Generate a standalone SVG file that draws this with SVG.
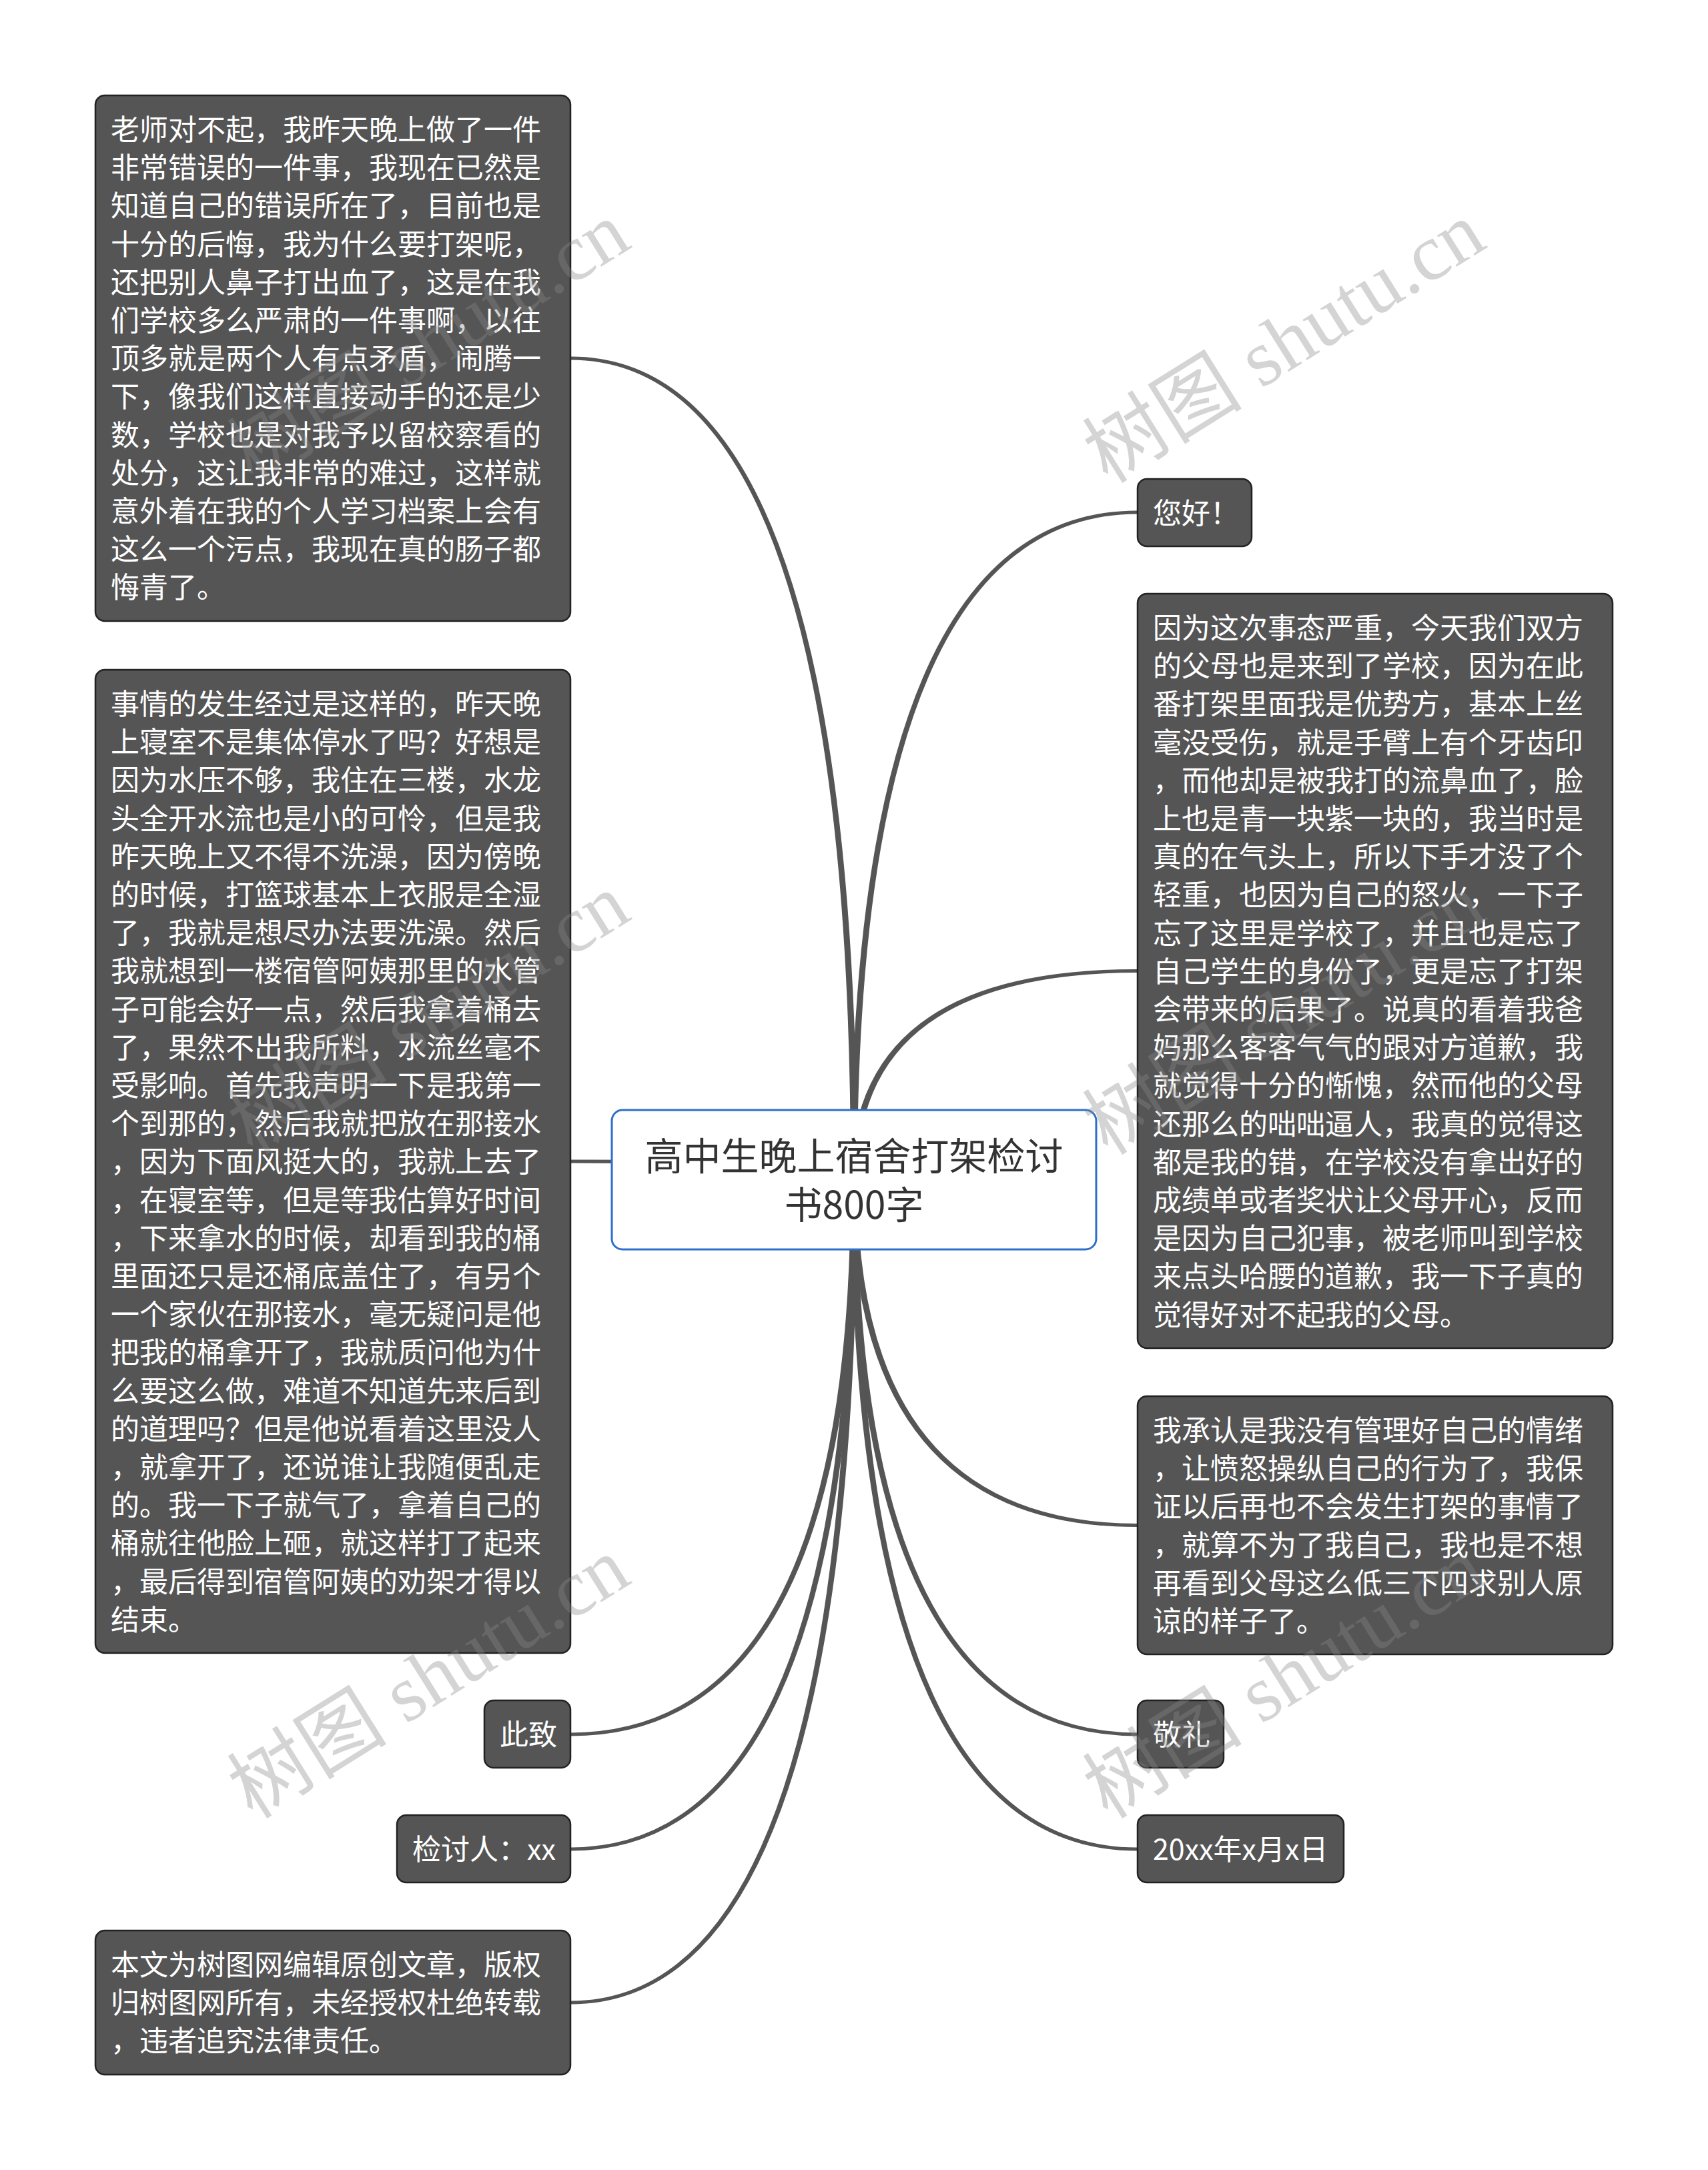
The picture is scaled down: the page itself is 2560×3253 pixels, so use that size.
<svg xmlns="http://www.w3.org/2000/svg" width="2560" height="3253" viewBox="0 0 2560 3253">
<style>
.leaf{fill:#555555;stroke:#222222;stroke-width:2.5}
.root{fill:#ffffff;stroke:#2f6fc9;stroke-width:3}
.lt{font-family:"Noto Sans CJK SC","Noto Sans",sans-serif;font-size:43px;fill:#ffffff}
.rt{font-family:"Noto Sans CJK SC","Noto Sans",sans-serif;font-size:57px;fill:#333333}
.conn{fill:#555555;stroke:none}
.wm{font-family:"Liberation Serif","Noto Sans CJK SC",serif;font-size:120px;fill:#888888;fill-opacity:0.36}
</style>
<rect width="2560" height="3253" fill="#ffffff"/>
<g id="connectors">
<path class="conn" d="M1285 1768 Q1283.5 533.5 855 534.5 L855 539.5 Q1276.5 540.5 1275 1768 Z"/>
<path class="conn" d="M1285 1768 Q1283.5 1737.5 855 1738.5 L855 1743.5 Q1276.5 1744.5 1275 1768 Z"/>
<path class="conn" d="M1285 1768 Q1283.5 2603.5 855 2602.5 L855 2597.5 Q1276.5 2596.5 1275 1768 Z"/>
<path class="conn" d="M1285 1768 Q1283.5 2775.5 855 2774.5 L855 2769.5 Q1276.5 2768.5 1275 1768 Z"/>
<path class="conn" d="M1285 1768 Q1283.5 3005.5 855 3004.5 L855 2999.5 Q1276.5 2998.5 1275 1768 Z"/>
<path class="conn" d="M1275 1768 Q1276.5 764.5 1705 765.5 L1705 770.5 Q1283.5 771.5 1285 1768 Z"/>
<path class="conn" d="M1275 1768 Q1276.5 1452 1705 1453 L1705 1458 Q1283.5 1459 1285 1768 Z"/>
<path class="conn" d="M1275 1768 Q1276.5 2290 1705 2289 L1705 2284 Q1283.5 2283 1285 1768 Z"/>
<path class="conn" d="M1275 1768 Q1276.5 2603.5 1705 2602.5 L1705 2597.5 Q1283.5 2596.5 1285 1768 Z"/>
<path class="conn" d="M1275 1768 Q1276.5 2775.5 1705 2774.5 L1705 2769.5 Q1283.5 2768.5 1285 1768 Z"/>
</g>
<g id="root">
<rect class="root" x="917" y="1664" width="726" height="209" rx="16"/>
<text class="rt" text-anchor="middle"><tspan x="1280" y="1753.7">高中生晚上宿舍打架检讨</tspan><tspan x="1280" y="1826.7">书800字</tspan></text>
</g>
<g id="n1">
<rect class="leaf" x="143" y="143" width="712" height="788" rx="14"/>
<text class="lt"><tspan x="166" y="209.9">老师对不起，我昨天晚上做了一件</tspan><tspan x="166" dy="57.2">非常错误的一件事，我现在已然是</tspan><tspan x="166" dy="57.2">知道自己的错误所在了，目前也是</tspan><tspan x="166" dy="57.2">十分的后悔，我为什么要打架呢，</tspan><tspan x="166" dy="57.2">还把别人鼻子打出血了，这是在我</tspan><tspan x="166" dy="57.2">们学校多么严肃的一件事啊，以往</tspan><tspan x="166" dy="57.2">顶多就是两个人有点矛盾，闹腾一</tspan><tspan x="166" dy="57.2">下，像我们这样直接动手的还是少</tspan><tspan x="166" dy="57.2">数，学校也是对我予以留校察看的</tspan><tspan x="166" dy="57.2">处分，这让我非常的难过，这样就</tspan><tspan x="166" dy="57.2">意外着在我的个人学习档案上会有</tspan><tspan x="166" dy="57.2">这么一个污点，我现在真的肠子都</tspan><tspan x="166" dy="57.2">悔青了。</tspan></text>
</g>
<g id="n2">
<rect class="leaf" x="143" y="1004" width="712" height="1474" rx="14"/>
<text class="lt"><tspan x="166" y="1070.9">事情的发生经过是这样的，昨天晚</tspan><tspan x="166" dy="57.2">上寝室不是集体停水了吗？好想是</tspan><tspan x="166" dy="57.2">因为水压不够，我住在三楼，水龙</tspan><tspan x="166" dy="57.2">头全开水流也是小的可怜，但是我</tspan><tspan x="166" dy="57.2">昨天晚上又不得不洗澡，因为傍晚</tspan><tspan x="166" dy="57.2">的时候，打篮球基本上衣服是全湿</tspan><tspan x="166" dy="57.2">了，我就是想尽办法要洗澡。然后</tspan><tspan x="166" dy="57.2">我就想到一楼宿管阿姨那里的水管</tspan><tspan x="166" dy="57.2">子可能会好一点，然后我拿着桶去</tspan><tspan x="166" dy="57.2">了，果然不出我所料，水流丝毫不</tspan><tspan x="166" dy="57.2">受影响。首先我声明一下是我第一</tspan><tspan x="166" dy="57.2">个到那的，然后我就把放在那接水</tspan><tspan x="166" dy="57.2">，因为下面风挺大的，我就上去了</tspan><tspan x="166" dy="57.2">，在寝室等，但是等我估算好时间</tspan><tspan x="166" dy="57.2">，下来拿水的时候，却看到我的桶</tspan><tspan x="166" dy="57.2">里面还只是还桶底盖住了，有另个</tspan><tspan x="166" dy="57.2">一个家伙在那接水，毫无疑问是他</tspan><tspan x="166" dy="57.2">把我的桶拿开了，我就质问他为什</tspan><tspan x="166" dy="57.2">么要这么做，难道不知道先来后到</tspan><tspan x="166" dy="57.2">的道理吗？但是他说看着这里没人</tspan><tspan x="166" dy="57.2">，就拿开了，还说谁让我随便乱走</tspan><tspan x="166" dy="57.2">的。我一下子就气了，拿着自己的</tspan><tspan x="166" dy="57.2">桶就往他脸上砸，就这样打了起来</tspan><tspan x="166" dy="57.2">，最后得到宿管阿姨的劝架才得以</tspan><tspan x="166" dy="57.2">结束。</tspan></text>
</g>
<g id="n3">
<rect class="leaf" x="726" y="2549" width="129" height="101" rx="14"/>
<text class="lt" x="749" y="2616.3">此致</text>
</g>
<g id="n4">
<rect class="leaf" x="595" y="2721" width="260" height="101" rx="14"/>
<text class="lt" x="618" y="2787.8">检讨人：xx</text>
</g>
<g id="n5">
<rect class="leaf" x="143" y="2894" width="712" height="216" rx="14"/>
<text class="lt"><tspan x="166" y="2960.9">本文为树图网编辑原创文章，版权</tspan><tspan x="166" dy="57.2">归树图网所有，未经授权杜绝转载</tspan><tspan x="166" dy="57.2">，违者追究法律责任。</tspan></text>
</g>
<g id="n6">
<rect class="leaf" x="1705" y="718" width="171" height="101" rx="14"/>
<text class="lt" x="1728" y="784.8">您好！</text>
</g>
<g id="n7">
<rect class="leaf" x="1705" y="890" width="712" height="1131" rx="14"/>
<text class="lt"><tspan x="1728" y="956.9">因为这次事态严重，今天我们双方</tspan><tspan x="1728" dy="57.2">的父母也是来到了学校，因为在此</tspan><tspan x="1728" dy="57.2">番打架里面我是优势方，基本上丝</tspan><tspan x="1728" dy="57.2">毫没受伤，就是手臂上有个牙齿印</tspan><tspan x="1728" dy="57.2">，而他却是被我打的流鼻血了，脸</tspan><tspan x="1728" dy="57.2">上也是青一块紫一块的，我当时是</tspan><tspan x="1728" dy="57.2">真的在气头上，所以下手才没了个</tspan><tspan x="1728" dy="57.2">轻重，也因为自己的怒火，一下子</tspan><tspan x="1728" dy="57.2">忘了这里是学校了，并且也是忘了</tspan><tspan x="1728" dy="57.2">自己学生的身份了，更是忘了打架</tspan><tspan x="1728" dy="57.2">会带来的后果了。说真的看着我爸</tspan><tspan x="1728" dy="57.2">妈那么客客气气的跟对方道歉，我</tspan><tspan x="1728" dy="57.2">就觉得十分的惭愧，然而他的父母</tspan><tspan x="1728" dy="57.2">还那么的咄咄逼人，我真的觉得这</tspan><tspan x="1728" dy="57.2">都是我的错，在学校没有拿出好的</tspan><tspan x="1728" dy="57.2">成绩单或者奖状让父母开心，反而</tspan><tspan x="1728" dy="57.2">是因为自己犯事，被老师叫到学校</tspan><tspan x="1728" dy="57.2">来点头哈腰的道歉，我一下子真的</tspan><tspan x="1728" dy="57.2">觉得好对不起我的父母。</tspan></text>
</g>
<g id="n8">
<rect class="leaf" x="1705" y="2093" width="712" height="387" rx="14"/>
<text class="lt"><tspan x="1728" y="2159.9">我承认是我没有管理好自己的情绪</tspan><tspan x="1728" dy="57.2">，让愤怒操纵自己的行为了，我保</tspan><tspan x="1728" dy="57.2">证以后再也不会发生打架的事情了</tspan><tspan x="1728" dy="57.2">，就算不为了我自己，我也是不想</tspan><tspan x="1728" dy="57.2">再看到父母这么低三下四求别人原</tspan><tspan x="1728" dy="57.2">谅的样子了。</tspan></text>
</g>
<g id="n9">
<rect class="leaf" x="1705" y="2549" width="129" height="101" rx="14"/>
<text class="lt" x="1728" y="2616.3">敬礼</text>
</g>
<g id="n10">
<rect class="leaf" x="1705" y="2721" width="309" height="101" rx="14"/>
<text class="lt" x="1728" y="2787.8">20xx年x月x日</text>
</g>
<g id="watermarks">
<text class="wm" x="643" y="554" text-anchor="middle" transform="rotate(-32 643 514)">树图 shutu.cn</text>
<text class="wm" x="1925" y="554" text-anchor="middle" transform="rotate(-32 1925 514)">树图 shutu.cn</text>
<text class="wm" x="643" y="1561" text-anchor="middle" transform="rotate(-32 643 1521)">树图 shutu.cn</text>
<text class="wm" x="1925" y="1561" text-anchor="middle" transform="rotate(-32 1925 1521)">树图 shutu.cn</text>
<text class="wm" x="643" y="2556" text-anchor="middle" transform="rotate(-32 643 2516)">树图 shutu.cn</text>
<text class="wm" x="1925" y="2556" text-anchor="middle" transform="rotate(-32 1925 2516)">树图 shutu.cn</text>
</g>
</svg>
